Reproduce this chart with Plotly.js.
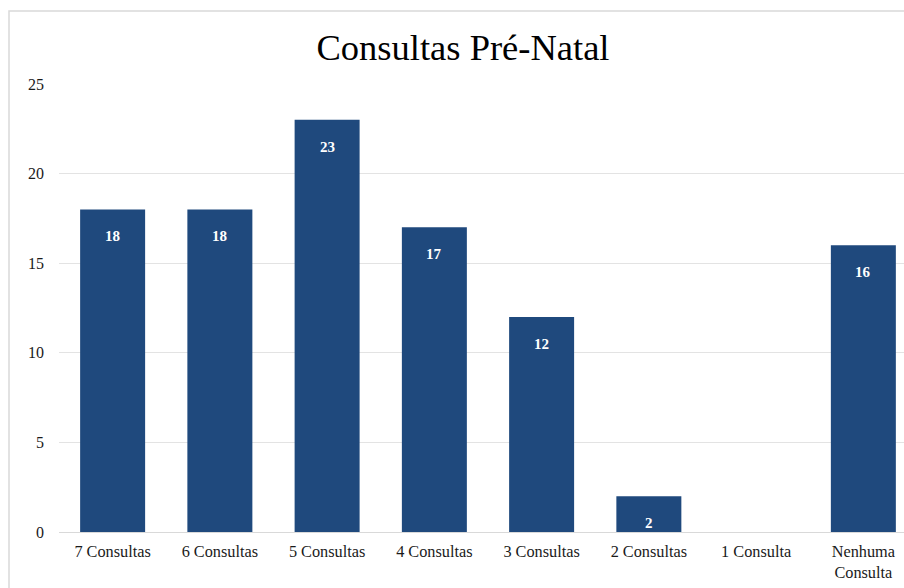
<!DOCTYPE html>
<html>
<head>
<meta charset="utf-8">
<script src="https://cdn.plot.ly/plotly-3.0.1.min.js"></script>
<style>html,body{margin:0;padding:0;background:#fff;overflow:hidden}</style>
</head>
<body>
<div id="chart" style="width:904px;height:588px"></div>
<script>
const categories = ["7 Consultas", "6 Consultas", "5 Consultas", "4 Consultas", "3 Consultas", "2 Consultas", "1 Consulta", "Nenhuma Consulta"];
const tickLabels = ["7 Consultas", "6 Consultas", "5 Consultas", "4 Consultas", "3 Consultas", "2 Consultas", "1 Consulta", "Nenhuma<br>Consulta"];
const values = [18, 18, 23, 17, 12, 2, 0, 16];
const yTicks = [0, 5, 10, 15, 20, 25];
const titleText = "Consultas Pré-Natal";

const serif = "'Liberation Serif', 'Times New Roman', serif";
const barColor = "#1f497d";

const trace = {
  type: "bar",
  x: categories,
  y: values,
  marker: {color: barColor, line: {width: 0}},
  hoverinfo: "x+y"
};

const annotations = categories.map((c, i) => values[i] > 0 ? ({
  x: c, y: values[i], xref: "x", yref: "y",
  text: "<b>" + values[i] + "</b>",
  showarrow: false, yanchor: "middle", yshift: -27,
  font: {family: serif, size: 15, color: "#ffffff"}
}) : null).filter(a => a);

const layout = {
  width: 904, height: 588,
  margin: {l: 59, r: 0, t: 84, b: 56, pad: 0},
  paper_bgcolor: "#ffffff", plot_bgcolor: "#ffffff",
  showlegend: false,
  bargap: 0.394,
  title: {
    text: titleText,
    font: {family: serif, size: 36.5, color: "#000000"},
    xref: "container", x: 463/904, xanchor: "center",
    yref: "container", y: 1 - 47/588, yanchor: "middle"
  },
  xaxis: {
    type: "category",
    range: [-0.5, 7.379],
    tickvals: categories, ticktext: tickLabels,
    showgrid: false, zeroline: false, showline: false,
    ticks: "", ticklabelstandoff: 8,
    tickfont: {family: serif, size: 16.3, color: "#1a1a1a"},
    fixedrange: true
  },
  yaxis: {
    range: [0, 25],
    tickvals: yTicks,
    showgrid: true, gridcolor: "#e3e3e3", gridwidth: 1,
    zeroline: true, zerolinecolor: "#d9d9d9", zerolinewidth: 1,
    showline: false, ticks: "", ticklabelstandoff: 14,
    tickfont: {family: serif, size: 16, color: "#1a1a1a"},
    fixedrange: true
  },
  shapes: [{
    type: "rect", xref: "paper", yref: "paper",
    x0: (9 - 59) / 845, x1: 1.1, y0: -0.3, y1: (532 - 11) / 448,
    line: {color: "#d9d9d9", width: 1.5}, fillcolor: "rgba(0,0,0,0)", layer: "below"
  }],
  annotations: annotations
};

Plotly.newPlot("chart", [trace], layout, {displayModeBar: false, staticPlot: true});
</script>
</body>
</html>
